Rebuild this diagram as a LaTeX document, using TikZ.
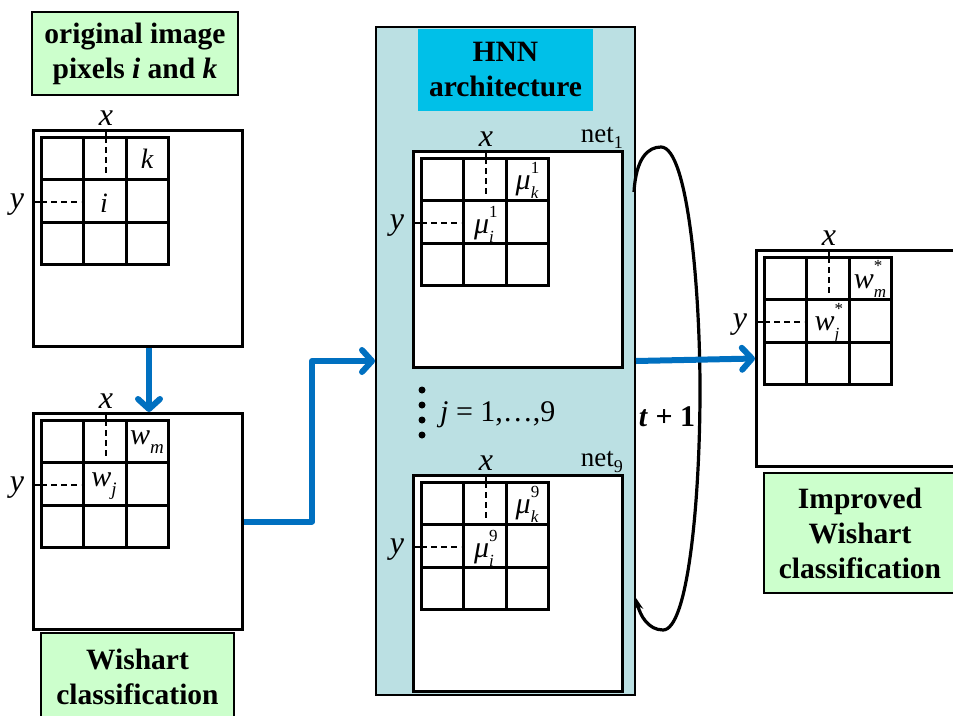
\documentclass[tikz,border=0pt]{standalone}
\usepackage{fontspec}
\setmainfont{Liberation Serif}
\usetikzlibrary{arrows.meta,calc}
\definecolor{lblgreen}{HTML}{CCFFCC}
\definecolor{hnnteal}{HTML}{BBE0E3}
\definecolor{hnncyan}{HTML}{00C0E8}
\definecolor{arrblue}{HTML}{0070C0}
\newcommand\fs[1]{\fontsize{#1}{#1}\selectfont}
\newcommand\ssb[3]{{\fs{30}#1}\rlap{\raisebox{0.6em}{\fs{17}\upshape #2}}\raisebox{-0.3em}{\fs{17}\itshape #3}}
\tikzset{
 outerbox/.style={draw=black, line width=3pt, fill=white, minimum width=209pt, minimum height=216pt, inner sep=0pt},
 gridline/.style={line width=3pt, line cap=rect},
 dashln/.style={line width=1.8pt, dash pattern=on 6pt off 4pt},
 tickln/.style={line width=1.8pt},
 axlab/.style={font=\fs{32}\itshape, inner sep=0pt},
 celllab/.style={font=\fs{28}\itshape, inner sep=0pt},
 lblbox/.style={draw=black, line width=2pt, fill=lblgreen, font=\fontsize{29.5}{35}\selectfont\bfseries, align=center, inner sep=0pt},
 bluearrow/.style={draw=arrblue, line width=6pt, line join=round, -{Straight Barb[length=10pt,width=22pt,round]}},
}
\newcommand\pixpanel[5]{%
\begin{scope}[shift={(#2,#3)}]
\node[outerbox, anchor=north west] (#1) at (0,0) {};
\foreach \k in {0,1,2,3}{
 \draw[gridline] (9,{8+42.5*\k}) -- (136.5,{8+42.5*\k});
 \draw[gridline] ({9+42.5*\k},8) -- ({9+42.5*\k},135.5);
}
\node[axlab] (#1x) at (74,-11) {x};
\draw[tickln] (74,0) -- (74,8);
\draw[dashln] (74,8) -- (74,47);
\node[axlab] (#1y) at (-15,76) {y};
\draw[tickln] (0,73) -- (9,73);
\draw[dashln] (9,73) -- (49,73);
\node[celllab] (#1k) at (115,30) {#4};
\node[celllab] (#1i) at (72,74) {#5};
\end{scope}}
\begin{document}
\begin{tikzpicture}[x=1pt,y=-1pt]
\useasboundingbox (0,0) rectangle (953,715);
% left column
\node[lblbox, minimum width=206pt, minimum height=83pt] (origlbl) at (135,53.5) {original image\\pixels \textit{i} and \textit{k}};
\pixpanel{img1}{32}{129}{k}{i}
\pixpanel{img2}{32}{412}{{\fs{30}w}\raisebox{-0.3em}{\fs{19}m}}{{\fs{30}w}\raisebox{-0.3em}{\fs{19}j}}
\node[lblbox, minimum width=193pt, minimum height=88pt] (wishlbl) at (137.5,677) {Wishart\\classification};
% HNN panel
\node[draw=black, line width=2pt, fill=hnnteal, minimum width=259pt, minimum height=668pt, inner sep=0pt] (hnn) at (505.5,361) {};
\node[fill=hnncyan, minimum width=175pt, minimum height=82pt, inner sep=0pt, font=\fontsize{29.5}{35}\selectfont\bfseries, align=center] (hnntitle) at (505.5,70) {HNN\\architecture};
\pixpanel{net1}{412}{150}{\ssb{μ}{1}{k}}{\ssb{μ}{1}{i}}
\pixpanel{net9}{412}{474}{\ssb{μ}{9}{k}}{\ssb{μ}{9}{i}}
\node[anchor=base east, font=\fs{27}, inner sep=0pt] (net1lbl) at (623,142) {net\raisebox{-0.25em}{\fs{18}1}};
\node[anchor=base east, font=\fs{27}, inner sep=0pt] (net9lbl) at (623,466) {net\raisebox{-0.25em}{\fs{18}9}};
\foreach \yy in {390,405,420,435} \fill (422,\yy) circle (3.5pt);
\node[anchor=west, font=\fs{30}, inner sep=0pt] (jrange) at (440,415) {\textit{j} = 1,…,9};
% right column
\pixpanel{img3}{755}{249}{\ssb{w}{*}{m}}{\ssb{w}{*}{j}}
\node[lblbox, minimum width=192pt, minimum height=120pt] (implbl) at (860,533) {Improved\\Wishart\\classification};
% loop
\coordinate (loopA) at (634,192);
\coordinate (loopB) at (636,598);
\draw[line width=3.2pt, -{Stealth[length=12pt,width=9pt]}] (loopA) .. controls (636,158) and (648,147) .. (661,147) .. controls (688,147) and (700,290) .. (700,390) .. controls (700,500) and (688,630) .. (663,630) .. controls (648,630) and (640,615) .. (loopB);
\node[font=\fs{30}\bfseries, inner sep=0pt] (tlbl) at (667,417) {\textit{t} + 1};
% arrows
\draw[bluearrow] ([xshift=11pt]img1.south) -- ([xshift=11pt]img2.north);
\draw[bluearrow] (img2.east) -- ++(68,0) |- (hnn.west);
\draw[bluearrow] (hnn.east) -- (img3.west);
\end{tikzpicture}
\end{document}
